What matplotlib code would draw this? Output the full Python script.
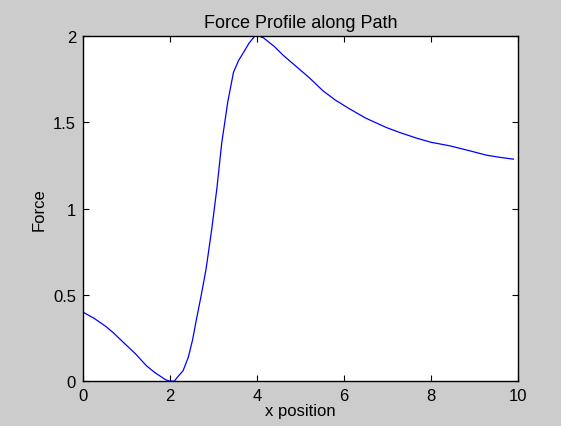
import matplotlib.pyplot as plt
import numpy as np

# values
x_pos = [0.0, 0.25, 0.51, 0.7, 0.89, 1.2, 1.46, 1.65, 1.77, 1.9, 2.0, 2.1, 2.15, 2.3,
         2.42, 2.52, 2.61, 2.72, 2.83, 2.96, 3.08, 3.19, 3.33, 3.46, 3.58, 3.69, 3.82,
         3.95, 4.05, 4.15, 4.4, 4.6, 4.83, 5.2, 5.52, 5.8, 6.14, 6.5, 6.98, 7.3, 7.67,
         8.0, 8.44, 8.9, 9.28, 9.6, 9.9]
force = [0.40, 0.365, 0.32, 0.28, 0.234, 0.16, 0.089, 0.05, 0.03, 0.008, 0.0, 0.0, 0.017,
         0.06, 0.137, 0.24, 0.36, 0.5, 0.65, 0.88, 1.12, 1.38, 1.62, 1.79, 1.86, 1.905,
         1.96, 2.0, 2.0, 1.99, 1.94, 1.89, 1.84, 1.76, 1.683, 1.63, 1.577, 1.525, 1.47,
         1.44, 1.409, 1.385, 1.364, 1.335, 1.31, 1.297, 1.287]

x_ticks = [0, 2, 4, 6, 8, 10]
y_ticks = [0, 0.5, 1, 1.5, 2]
y_tick_labels = ['0', '0.5', '1', '1.5', '2']

plt.rcParams['font.family'] = ['Liberation Sans', 'DejaVu Sans']

fig = plt.figure(figsize=(5.61, 4.27), dpi=100, facecolor='#cccccc')
ax = fig.add_axes([0.148, 0.105, 0.775, 0.808])
ax.set_facecolor('white')

ax.plot(x_pos, force, color='#0000ff', linewidth=0.9)

ax.set_xlim(0, 10)
ax.set_ylim(0, 2)
ax.set_xticks(x_ticks)
ax.set_yticks(y_ticks)
ax.set_yticklabels(y_tick_labels)
ax.tick_params(direction='in', top=True, right=True, length=4, width=0.8,
               labelsize=12, pad=5)
for s in ax.spines.values():
    s.set_linewidth(1.0)

ax.set_title('Force Profile along Path', fontsize=13, pad=6.5)
ax.set_xlabel('x position', fontsize=12, labelpad=0)
ax.set_ylabel('Force', fontsize=12, labelpad=5)

fig.savefig('out.png', dpi=100, facecolor=fig.get_facecolor())
